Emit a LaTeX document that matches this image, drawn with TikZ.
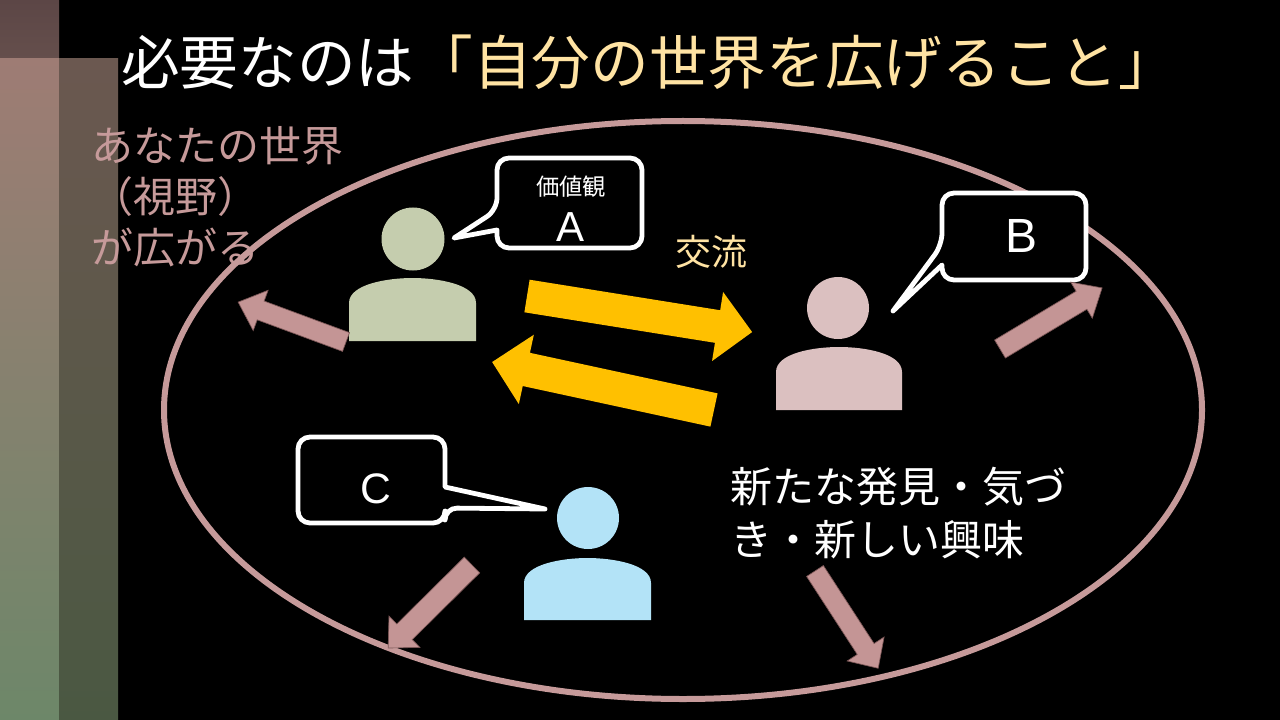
\documentclass[tikz,border=0pt]{standalone}
\usepackage{fontspec}
\newfontfamily\jp{Noto Sans CJK JP}
\newfontfamily\lat{Liberation Sans}
\definecolor{titleY}{HTML}{FFE3A3}
\definecolor{roseT}{HTML}{C69A9A}
\definecolor{roseA}{HTML}{C49595}
\definecolor{roseD}{HTML}{7A5555}
\definecolor{arrowY}{HTML}{FFC000}
\definecolor{persA}{HTML}{C5CDAE}
\definecolor{persB}{HTML}{DBC0C0}
\definecolor{persC}{HTML}{B3E3F7}
\definecolor{barTa}{HTML}{5C4646}
\definecolor{barTb}{HTML}{654F4C}
\definecolor{barLa}{HTML}{9E7C74}
\definecolor{barLb}{HTML}{888A66}
\definecolor{barLc}{HTML}{6D8769}
\definecolor{barRa}{HTML}{6B5850}
\definecolor{barRb}{HTML}{545A44}
\definecolor{barRc}{HTML}{4A5842}
\newcommand\blockarrow[8]{%
  \begin{scope}[shift={(#2,#3)},rotate=#4]
    \path[#1] (0,-#6) -- ({#5-#8},-#6) -- ({#5-#8},-#7) -- (#5,0) -- ({#5-#8},#7) -- ({#5-#8},#6) -- (0,#6) -- cycle;
  \end{scope}}
\begin{document}
\begin{tikzpicture}[x=0.75pt,y=-0.75pt,
  bubble/.style={draw=white,line width=3.6pt,fill=black,line join=round},
  rosearrow/.style={fill=roseA,draw=roseD,line width=0.5pt,line join=miter},
  yelarrow/.style={fill=arrowY},
  lbl/.style={inner sep=0pt,text=white}]
% background
\fill[black] (0,0) rectangle (1280,720);
\shade[top color=barTa,bottom color=barTb] (0,0) rectangle (59,59);
\shade[top color=barLa,middle color=barLb,bottom color=barLc] (0,59) rectangle (59,720);
\shade[top color=barRa,middle color=barRb,bottom color=barRc] (59,59) rectangle (118,720);
% world ellipse
\draw[roseT,line width=4.5pt] (683,410) ellipse [x radius=519, y radius=289];
% title
\node[lbl,anchor=west,font={\jp\fontsize{44}{50}\selectfont}] (title) at (121,62)
  {必要なのは\textcolor{titleY}{「自分の世界を広げること」}};
% left text
\node[lbl,anchor=north west,align=left,text=roseT,font={\jp\fontsize{31.5}{38.25}\selectfont}] (world) at (91,126)
  {あなたの世界\\（視野）\\が広がる};
% persons
\fill[persA] (413,239) circle [radius=31.5];
\fill[persA] (349,341) -- (349,303) .. controls (349,284) and (388,278) .. (412.5,278) .. controls (437,278) and (476,284) .. (476,303) -- (476,341) -- cycle;
\fill[persB] (838,308) circle [radius=31];
\fill[persB] (776,410) -- (776,372) .. controls (776,353) and (814,347) .. (839,347) .. controls (864,347) and (902,353) .. (902,372) -- (902,410) -- cycle;
\fill[persC] (588,518) circle [radius=31];
\fill[persC] (524,620) -- (524,583) .. controls (524,564) and (563,558) .. (587.5,558) .. controls (612,558) and (651,564) .. (651,583) -- (651,620) -- cycle;
% speech bubbles
\draw[bubble] (497,230) [rounded corners=9pt] -- (497,248) -- (642,248) -- (642,158) -- (497,158) -- (497,210) [sharp corners] -- (454,238) -- cycle;
\node[lbl,font={\jp\fontsize{17.5}{20}\selectfont}] (kachikan) at (571,187) {価値観};
\node[lbl,font={\lat\fontsize{31.5}{36}\selectfont}] (la) at (570,227) {A};
\draw[bubble] (942,265) [rounded corners=9pt] -- (942,280) -- (1086,280) -- (1086,193) -- (942,193) -- (942,245) [sharp corners] -- (893,311) -- cycle;
\node[lbl,font={\lat\fontsize{36}{40}\selectfont}] (lb) at (1021,236) {B};
\draw[bubble] (445,487) [rounded corners=9pt] -- (445,437) -- (298,437) -- (298,523) -- (445,523) -- (445,508) [sharp corners] -- (545,509) -- cycle;
\node[lbl,font={\lat\fontsize{32}{36}\selectfont}] (lc) at (376,489) {C};
% exchange
\node[lbl,text=titleY,font={\jp\fontsize{27}{30}\selectfont}] (koryu) at (711,252) {交流};
\blockarrow{yelarrow}{527}{296}{-9.1}{228}{16.5}{35}{35}
\blockarrow{yelarrow}{714}{410}{167.8}{227}{17}{35.5}{35}
% expansion arrows
\blockarrow{rosearrow}{346}{342}{159.7}{115}{10}{21.5}{24}
\blockarrow{rosearrow}{1000}{349}{30.9}{119}{10.5}{21}{24}
\blockarrow{rosearrow}{472}{565}{-135.3}{118}{11}{22}{23}
\blockarrow{rosearrow}{815}{571}{-57}{116}{10}{22}{23}
% discovery text
\node[lbl,anchor=west,align=left,font={\jp\fontsize{31.5}{39.75}\selectfont}] (disc) at (730,513)
  {新たな発見・気づ\\き・新しい興味};
\end{tikzpicture}
\end{document}
